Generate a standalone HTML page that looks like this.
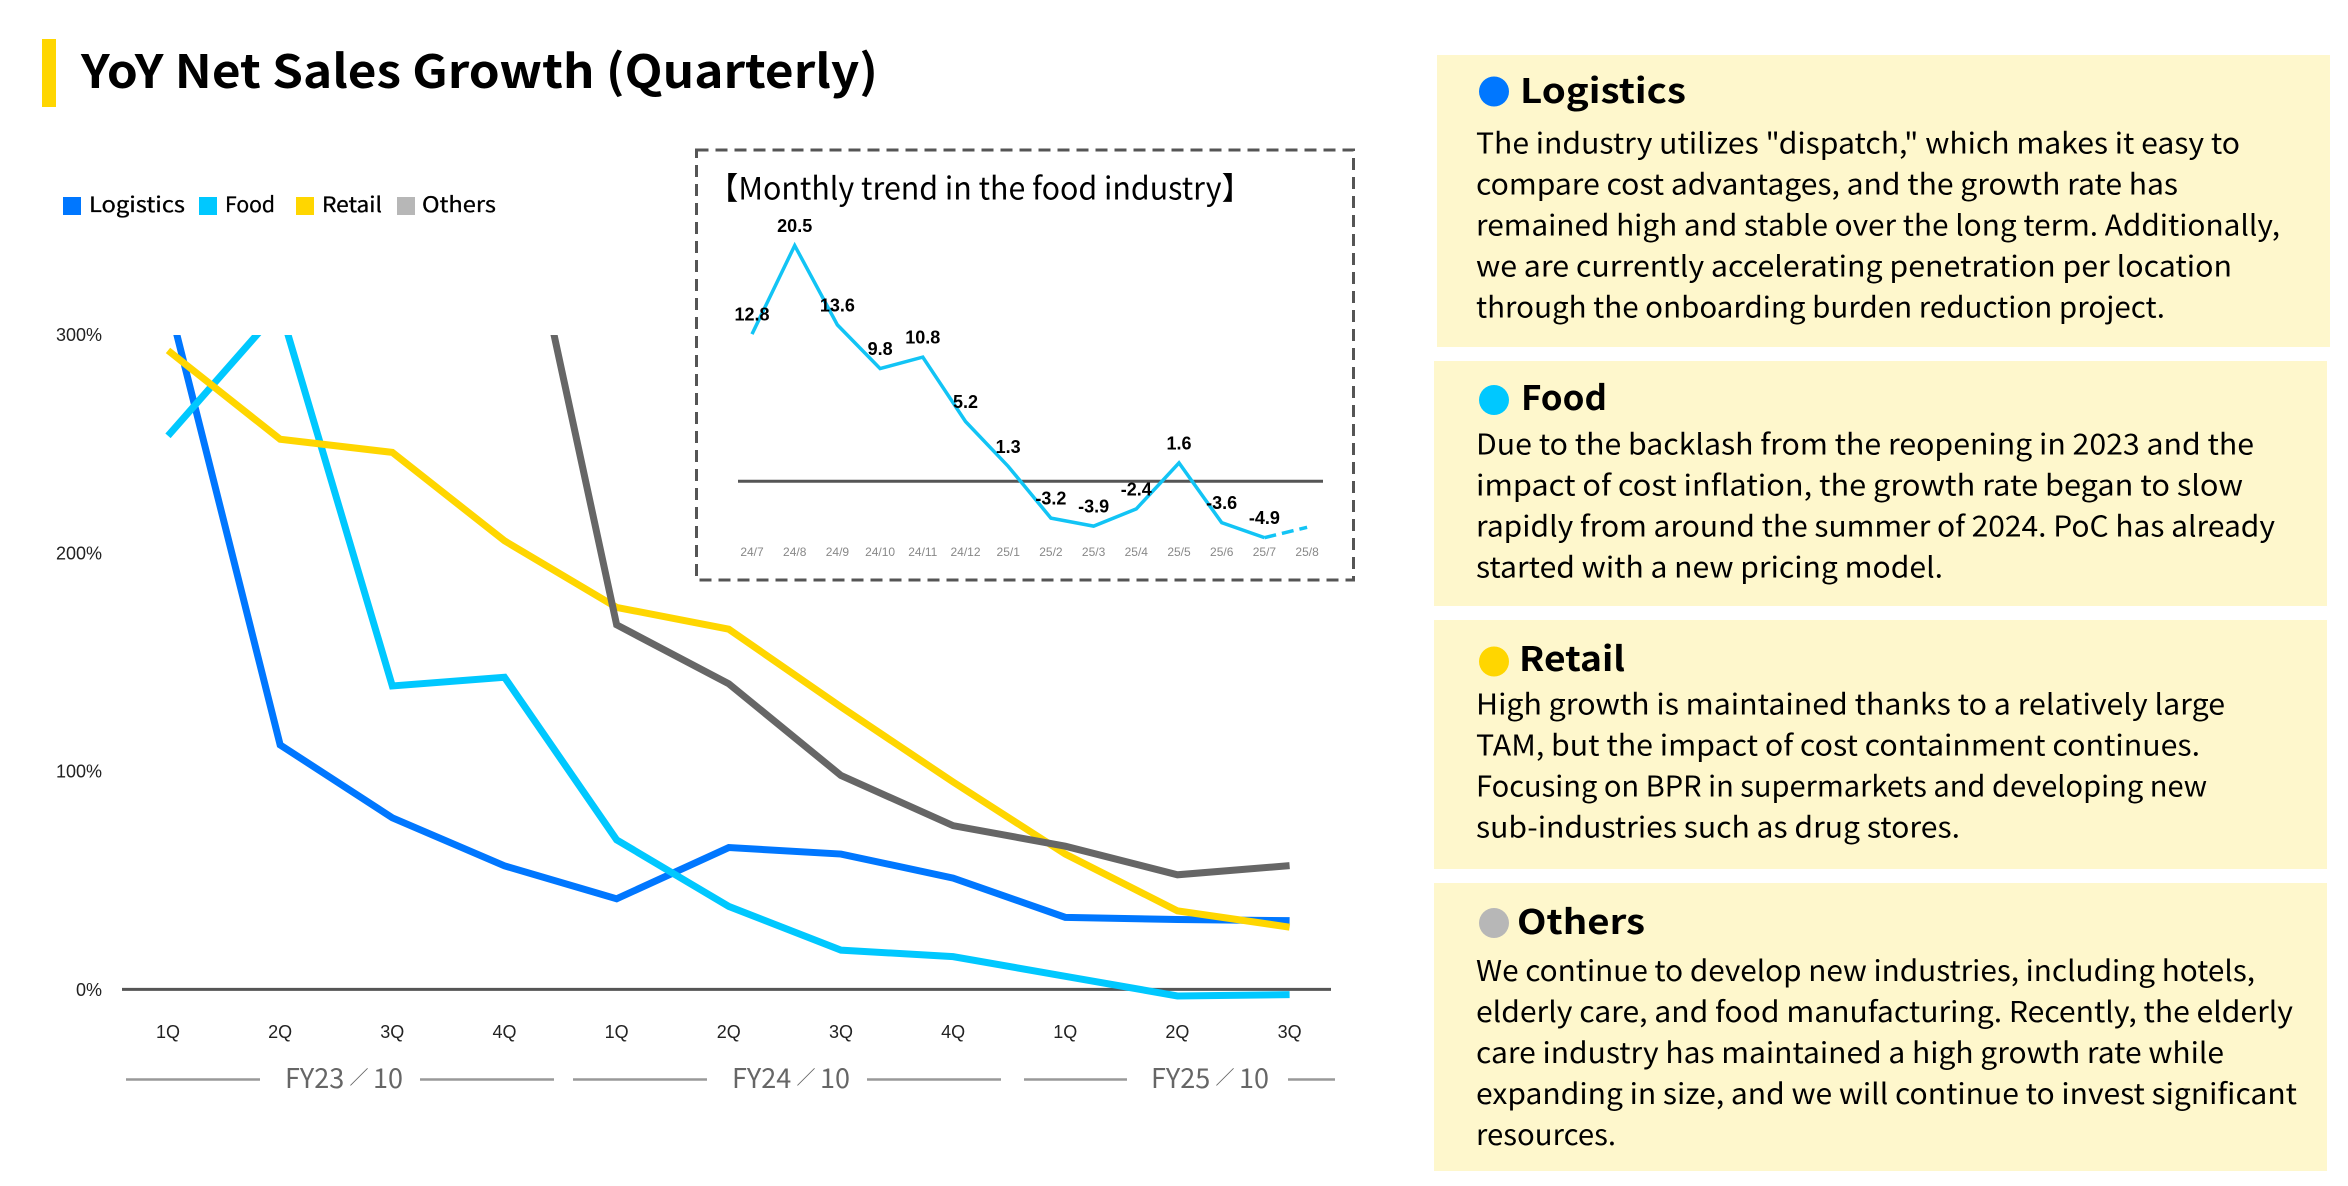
<!DOCTYPE html>
<html lang="en">
<head>
<meta charset="utf-8">
<title>YoY Net Sales Growth (Quarterly)</title>
<style>
html,body{margin:0;padding:0;background:#fff;width:2348px;height:1186px;overflow:hidden}
svg{display:block}
text{font-family:"Noto Sans CJK JP","Liberation Sans",sans-serif;fill:#000}
.title{font-size:46px;font-weight:700;transform:translate(0,1px)}
.head{font-size:34px;font-weight:700;transform:translate(-2px,0)}
.body{font-size:28.5px;transform:translate(-1px,0.8px)}
.leg{font-size:21px;stroke:#000;stroke-width:.3px}
.num{font-family:"Liberation Sans",sans-serif}
</style>
</head>
<body>
<svg id="page" xmlns="http://www.w3.org/2000/svg" width="2348" height="1186" viewBox="0 0 2348 1186">
  <rect x="42" y="39" width="14" height="68" fill="#FFD600"/>
  <text class="title" x="81" y="87" textLength="797" lengthAdjust="spacingAndGlyphs">YoY Net Sales Growth (Quarterly)</text>

  <g>
    <rect x="63" y="197" width="18" height="18" fill="#0077FF"/>
    <text class="leg" x="89" y="212" textLength="96" lengthAdjust="spacingAndGlyphs">Logistics</text>
    <rect x="199" y="197" width="18" height="18" fill="#00C8FF"/>
    <text class="leg" x="225" y="212" textLength="50" lengthAdjust="spacingAndGlyphs">Food</text>
    <rect x="296" y="197" width="18" height="18" fill="#FFD600"/>
    <text class="leg" x="322" y="212" textLength="60" lengthAdjust="spacingAndGlyphs">Retail</text>
    <rect x="397" y="197" width="18" height="18" fill="#B7B7B7"/>
    <text class="leg" x="422" y="212" textLength="74" lengthAdjust="spacingAndGlyphs">Others</text>
  </g>

  <defs>
    <clipPath id="main-clip"><rect x="100" y="335" width="1260" height="760"/></clipPath>
  </defs>
  <g id="main-chart"></g>

  <g stroke="#999" stroke-width="2.5">
    <line x1="126" y1="1079.5" x2="260" y2="1079.5"/>
    <line x1="420" y1="1079.5" x2="554" y2="1079.5"/>
    <line x1="573" y1="1079.5" x2="707" y2="1079.5"/>
    <line x1="867" y1="1079.5" x2="1001" y2="1079.5"/>
    <line x1="1024" y1="1079.5" x2="1127" y2="1079.5"/>
    <line x1="1288" y1="1079.5" x2="1335" y2="1079.5"/>
  </g>
  <text y="1088" font-size="27" style="fill:#666"><tspan x="285">FY23</tspan><tspan x="349.5" dy="-4" font-size="19">／</tspan><tspan x="373" dy="4">10</tspan></text>
  <text y="1088" font-size="27" style="fill:#666"><tspan x="732">FY24</tspan><tspan x="796.5" dy="-4" font-size="19">／</tspan><tspan x="820" dy="4">10</tspan></text>
  <text y="1088" font-size="27" style="fill:#666"><tspan x="1151">FY25</tspan><tspan x="1215.5" dy="-4" font-size="19">／</tspan><tspan x="1239" dy="4">10</tspan></text>

  <rect x="696.5" y="150" width="657" height="430" fill="none" stroke="#555" stroke-width="3" stroke-dasharray="12 7"/>
  <text x="708" y="199.5" font-size="31" textLength="544" lengthAdjust="spacingAndGlyphs">【Monthly trend in the food industry】</text>
  <g id="inset-chart"></g>

  <g>
    <rect x="1437" y="55" width="893" height="292" fill="#FEF7CC"/>
    <circle cx="1494" cy="91.5" r="15" fill="#0077FF"/>
    <text class="head" x="1522" y="103" textLength="166" lengthAdjust="spacingAndGlyphs">Logistics</text>
    <text class="body" x="1477" y="152.5" textLength="764" lengthAdjust="spacingAndGlyphs">The industry utilizes "dispatch," which makes it easy to</text>
    <text class="body" x="1477" y="193.5" textLength="702" lengthAdjust="spacingAndGlyphs">compare cost advantages, and the growth rate has</text>
    <text class="body" x="1477" y="234.5" textLength="804" lengthAdjust="spacingAndGlyphs">remained high and stable over the long term. Additionally,</text>
    <text class="body" x="1477" y="275.5" textLength="756" lengthAdjust="spacingAndGlyphs">we are currently accelerating penetration per location</text>
    <text class="body" x="1477" y="316.5" textLength="689" lengthAdjust="spacingAndGlyphs">through the onboarding burden reduction project.</text>
  </g>

  <g>
    <rect x="1434" y="361" width="893" height="245" fill="#FEF7CC"/>
    <circle cx="1494" cy="400" r="15" fill="#00C8FF"/>
    <text class="head" x="1523" y="410" textLength="86" lengthAdjust="spacingAndGlyphs">Food</text>
    <text class="body" x="1477" y="453.5" textLength="778" lengthAdjust="spacingAndGlyphs">Due to the backlash from the reopening in 2023 and the</text>
    <text class="body" x="1477" y="494.5" textLength="767" lengthAdjust="spacingAndGlyphs">impact of cost inflation, the growth rate began to slow</text>
    <text class="body" x="1477" y="535.5" textLength="799" lengthAdjust="spacingAndGlyphs">rapidly from around the summer of 2024. PoC has already</text>
    <text class="body" x="1477" y="576.5" textLength="467" lengthAdjust="spacingAndGlyphs">started with a new pricing model.</text>
  </g>

  <g>
    <rect x="1434" y="620" width="893" height="249" fill="#FEF7CC"/>
    <circle cx="1494" cy="661.5" r="15" fill="#FFD600"/>
    <text class="head" x="1521" y="671" textLength="106" lengthAdjust="spacingAndGlyphs">Retail</text>
    <text class="body" x="1477" y="713.5" textLength="749" lengthAdjust="spacingAndGlyphs">High growth is maintained thanks to a relatively large</text>
    <text class="body" x="1477" y="754.5" textLength="724" lengthAdjust="spacingAndGlyphs">TAM, but the impact of cost containment continues.</text>
    <text class="body" x="1477" y="795.5" textLength="731" lengthAdjust="spacingAndGlyphs">Focusing on BPR in supermarkets and developing new</text>
    <text class="body" x="1477" y="836.5" textLength="484" lengthAdjust="spacingAndGlyphs">sub-industries such as drug stores.</text>
  </g>

  <g>
    <rect x="1434" y="883" width="893" height="288" fill="#FEF7CC"/>
    <circle cx="1494" cy="923" r="15" fill="#B7B7B7"/>
    <text class="head" x="1519" y="934" textLength="128" lengthAdjust="spacingAndGlyphs">Others</text>
    <text class="body" x="1477" y="980" textLength="779" lengthAdjust="spacingAndGlyphs">We continue to develop new industries, including hotels,</text>
    <text class="body" x="1477" y="1021" textLength="817" lengthAdjust="spacingAndGlyphs">elderly care, and food manufacturing. Recently, the elderly</text>
    <text class="body" x="1477" y="1062" textLength="748" lengthAdjust="spacingAndGlyphs">care industry has maintained a high growth rate while</text>
    <text class="body" x="1477" y="1103" textLength="821" lengthAdjust="spacingAndGlyphs">expanding in size, and we will continue to invest significant</text>
    <text class="body" x="1477" y="1144" textLength="140" lengthAdjust="spacingAndGlyphs">resources.</text>
  </g>
</svg>

<script>
// Main chart data
var quarters = ['1Q','2Q','3Q','4Q','1Q','2Q','3Q','4Q','1Q','2Q','3Q'];
var yTicks = [0,100,200,300];
var logistics = [316,112,78.6,56.6,41.5,65,62,51,33,32,31.5];
var food = [253.6,312,139,143,68.5,38,18,15,6,-3,-2.4];
var retail = [292.7,252,246,205.5,175,165,129.4,95,62,36,28.5];
var others = [null,null,null,405,167,140,98,75,65.6,52.5,56.7];

// Inset chart data
var months = ['24/7','24/8','24/9','24/10','24/11','24/12','25/1','25/2','25/3','25/4','25/5','25/6','25/7','25/8'];
var foodMonthly = [12.8,20.5,13.6,9.8,10.8,5.2,1.3,-3.2,-3.9,-2.4,1.6,-3.6,-4.9,-4.0];
var foodMonthlyLabels = ['12.8','20.5','13.6','9.8','10.8','5.2','1.3','-3.2','-3.9','-2.4','1.6','-3.6','-4.9',''];

var NS = 'http://www.w3.org/2000/svg';
function xMain(i){ return 168 + i * 112.16; }
function yMain(v){ return 989.4 - v * 2.183; }
function xInset(i){ return 752 + i * 42.7; }
function yInset(v){ return 481.3 - v * 11.5; }

function makeLine(x1, y1, x2, y2, stroke, width){
  var el = document.createElementNS(NS, 'line');
  el.setAttribute('x1', x1);
  el.setAttribute('y1', y1);
  el.setAttribute('x2', x2);
  el.setAttribute('y2', y2);
  el.setAttribute('stroke', stroke);
  el.setAttribute('stroke-width', width);
  return el;
}
function makeText(x, y, str, size, anchor, color, weight){
  var el = document.createElementNS(NS, 'text');
  el.setAttribute('class', 'num');
  el.setAttribute('x', x);
  el.setAttribute('y', y);
  el.setAttribute('font-size', size);
  el.setAttribute('text-anchor', anchor);
  el.setAttribute('font-weight', weight);
  el.style.fill = color;
  el.textContent = str;
  return el;
}
function makePath(vals, xf, yf, stroke, width){
  var d = '';
  for (var i = 0; i < vals.length; i++) {
    if (vals[i] === null) continue;
    d += (d ? 'L' : 'M') + xf(i) + ' ' + yf(vals[i]);
  }
  var el = document.createElementNS(NS, 'path');
  el.setAttribute('d', d);
  el.setAttribute('fill', 'none');
  el.setAttribute('stroke', stroke);
  el.setAttribute('stroke-width', width);
  el.setAttribute('stroke-linejoin', 'miter');
  return el;
}

var main = document.getElementById('main-chart');

yTicks.forEach(function(t){
  var el = makeText(102, yMain(t) + 6.6, t + '%', 18, 'end', '#222', 400);
  
  
  main.appendChild(el);
});

var zero = makeLine(122, yMain(0), 1331, yMain(0), '#555', 3);


main.appendChild(zero);

quarters.forEach(function(q, i){
  var el = makeText(xMain(i), 1038, q, 18, 'middle', '#222', 400);
  
  
  main.appendChild(el);
});

var clipGroup = document.createElementNS(NS, 'g');
clipGroup.setAttribute('clip-path', 'url(#main-clip)');


main.appendChild(clipGroup);

var logisticsLine = makePath(logistics, xMain, yMain, '#0077FF', 7);


clipGroup.appendChild(logisticsLine);

var foodLine = makePath(food, xMain, yMain, '#00C8FF', 7);


clipGroup.appendChild(foodLine);

var retailLine = makePath(retail, xMain, yMain, '#FFD600', 7);


clipGroup.appendChild(retailLine);

var othersLine = makePath(others, xMain, yMain, '#666666', 7);


clipGroup.appendChild(othersLine);

var inset = document.getElementById('inset-chart');

var insetZero = makeLine(738, yInset(0), 1323, yInset(0), '#555', 3);


inset.appendChild(insetZero);

var lastSolid = foodMonthly.length - 2;
var solidVals = foodMonthly.map(function(v, i){ return i <= lastSolid ? v : null; });
var dashVals = foodMonthly.map(function(v, i){ return i >= lastSolid ? v : null; });

var insetLine = makePath(solidVals, xInset, yInset, '#12C4F5', 3.5);


inset.appendChild(insetLine);

var insetDash = makePath(dashVals, xInset, yInset, '#12C4F5', 3.5);
insetDash.setAttribute('stroke-dasharray', '12 6');


inset.appendChild(insetDash);

months.forEach(function(m, i){
  var el = makeText(xInset(i), 556, m, 12, 'middle', '#888', 400);
  
  
  inset.appendChild(el);
});

foodMonthlyLabels.forEach(function(lbl, i){
  if (!lbl) return;
  var el = makeText(xInset(i), yInset(foodMonthly[i]) - 13.5, lbl, 18, 'middle', '#000', 700);
  
  
  inset.appendChild(el);
});
</script>
</body>
</html>
